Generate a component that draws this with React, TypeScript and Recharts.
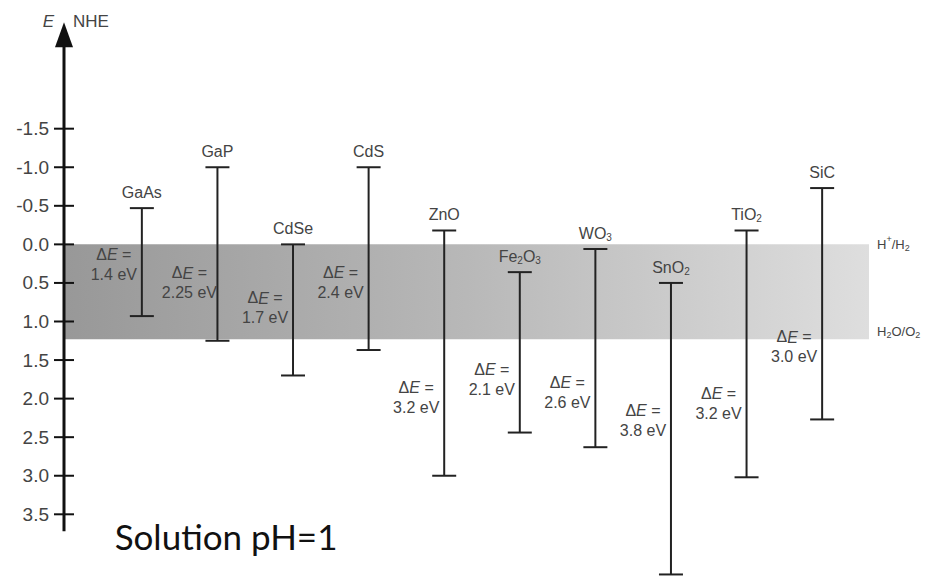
import {
  ScatterChart,
  Scatter,
  XAxis,
  YAxis,
  ErrorBar,
  ReferenceArea,
  ReferenceLine,
  ReferenceDot,
} from 'recharts'

const materials = ['GaAs', 'GaP', 'CdSe', 'CdS', 'ZnO', 'Fe2O3', 'WO3', 'SnO2', 'TiO2', 'SiC']
const bandGaps = ['1.4', '2.25', '1.7', '2.4', '3.2', '2.1', '2.6', '3.8', '3.2', '3.0']
// band edges in eV vs NHE (conduction band top, valence band bottom)
const cbEdge = [-0.47, -1.0, 0.0, -1.0, -0.18, 0.36, 0.06, 0.5, -0.18, -0.73]
const vbEdge = [0.93, 1.25, 1.7, 1.37, 3.0, 2.44, 2.63, 4.28, 3.02, 2.27]
// where the "ΔE = ..." note sits on the energy axis
const gapLabelAt = [0.26, 0.5, 0.82, 0.49, 1.98, 1.75, 1.92, 2.28, 2.06, 1.33]
const yTicks = [-1.5, -1.0, -0.5, 0, 0.5, 1.0, 1.5, 2.0, 2.5, 3.0, 3.5]
const hPlusLevel = 0
const waterOxLevel = 1.23

const X_MIN = -1.03
const X_MAX = 9.62
const TEXT = '#444'
const FONT = 'Liberation Sans, Arial, sans-serif'

const edgeRows = materials.map((name, i) => ({
  x: i,
  y: cbEdge[i],
  err: [0, vbEdge[i] - cbEdge[i]],
  name,
}))

const gapRows = materials.map((name, i) => ({
  x: i,
  y: gapLabelAt[i],
  gap: bandGaps[i],
}))

function formula(text: string, sub = 10) {
  const parts = text.match(/[A-Za-z]+|\d+/g) || []
  return parts.map((p, i) => {
    const isNum = /\d/.test(p)
    const prevNum = i > 0 && /\d/.test(parts[i - 1])
    if (isNum) return <tspan key={i} fontSize={sub} dy={4}>{p}</tspan>
    return <tspan key={i} dy={prevNum ? -4 : 0}>{p}</tspan>
  })
}

function NameShape(props: any) {
  const { cx, cy, payload } = props
  return (
    <text x={cx} y={cy - 16} textAnchor="middle" dominantBaseline="central"
      fontSize={16} fill={TEXT} fontFamily={FONT}>
      {formula(payload.name)}
    </text>
  )
}

function GapShape(props: any) {
  const { cx, cy, payload } = props
  const x = cx - 28
  return (
    <g fontSize={16} fill={TEXT} fontFamily={FONT}>
      <text x={x} y={cy - 10} textAnchor="middle" dominantBaseline="central">
        Δ<tspan fontStyle="italic">E</tspan> =
      </text>
      <text x={x} y={cy + 10} textAnchor="middle" dominantBaseline="central">
        {payload.gap} eV
      </text>
    </g>
  )
}

function YTick(props: any) {
  const { x, y, payload } = props
  return (
    <g>
      <line x1={x - 10} x2={x + 10} y1={y} y2={y} stroke="#111" strokeWidth={2} />
      <text x={x - 15} y={y} textAnchor="end" dominantBaseline="central"
        fontSize={19} fill={TEXT} fontFamily={FONT}>
        {Number(payload.value).toFixed(1)}
      </text>
    </g>
  )
}

function ArrowHead(props: any) {
  const { cx, cy } = props
  return (
    <g>
      <polygon points={`${cx},${cy} ${cx - 9},${cy + 25} ${cx + 9},${cy + 25}`} fill="#111" />
      <text x={cx - 10} y={cy - 1} textAnchor="end" dominantBaseline="central"
        fontSize={17} fontStyle="italic" fill={TEXT} fontFamily={FONT}>E</text>
      <text x={cx + 9} y={cy - 1} dominantBaseline="central"
        fontSize={17} fill={TEXT} fontFamily={FONT}>NHE</text>
    </g>
  )
}

function NoteShape(props: any) {
  const { cx, cy } = props
  return (
    <text x={cx} y={cy} fontSize={35} fill="#111" fontFamily="Lato, Open Sans, sans-serif">
      Solution pH=1
    </text>
  )
}

const HPlusLabel = (props: any) => {
  const { viewBox } = props
  return (
    <text x={viewBox.x + viewBox.width + 8} y={viewBox.y} dominantBaseline="central"
      fontSize={13} fill={TEXT} fontFamily={FONT}>
      H<tspan fontSize={9} dy={-5}>+</tspan><tspan dy={5}>/H</tspan><tspan fontSize={9} dy={4}>2</tspan>
    </text>
  )
}

const WaterLabel = (props: any) => {
  const { viewBox } = props
  return (
    <text x={viewBox.x + viewBox.width + 8} y={viewBox.y - 8} dominantBaseline="central"
      fontSize={13} fill={TEXT} fontFamily={FONT}>
      H<tspan fontSize={9} dy={4}>2</tspan><tspan dy={-4}>O/O</tspan><tspan fontSize={9} dy={4}>2</tspan>
    </text>
  )
}

export default function App() {
  return (
    <div style={{ position: 'absolute', left: 0, top: 0, width: 928, height: 576, background: '#fff' }}>
      <ScatterChart width={928} height={576} margin={{ top: 13, right: 59, bottom: 0, left: 14 }}>
        <defs>
          <linearGradient id="bandGrad" x1="0" y1="0" x2="1" y2="0">
            <stop offset="0%" stopColor="#989898" />
            <stop offset="50%" stopColor="#b8b8b8" />
            <stop offset="100%" stopColor="#dedede" />
          </linearGradient>
        </defs>
        <XAxis type="number" dataKey="x" domain={[X_MIN, X_MAX]} hide allowDataOverflow />
        <YAxis
          type="number"
          dataKey="y"
          domain={[-3, 4.3]}
          reversed
          allowDataOverflow
          width={50}
          ticks={yTicks}
          interval={0}
          axisLine={false}
          tickLine={false}
          tickSize={0}
          tickMargin={0}
          tick={<YTick />}
        />
        <ReferenceArea x1={X_MIN} x2={X_MAX} y1={hPlusLevel} y2={waterOxLevel}
          fill="url(#bandGrad)" fillOpacity={1} stroke="none" ifOverflow="visible" />
        <ReferenceLine y={hPlusLevel} stroke="none" label={<HPlusLabel />} />
        <ReferenceLine y={waterOxLevel} stroke="none" label={<WaterLabel />} />
        <ReferenceLine
          segment={[{ x: X_MIN, y: -2.6 }, { x: X_MIN, y: 3.72 }]}
          stroke="#111"
          strokeWidth={3}
          ifOverflow="visible"
        />
        <ReferenceDot x={X_MIN} y={-2.88} r={1} shape={<ArrowHead />} ifOverflow="visible" />
        <Scatter data={edgeRows} shape={<NameShape />} isAnimationActive={false}>
          <ErrorBar dataKey="err" direction="y" width={12} stroke="#222" strokeWidth={2}
            isAnimationActive={false} />
        </Scatter>
        <Scatter data={gapRows} shape={<GapShape />} isAnimationActive={false} />
        <ReferenceDot x={-0.36} y={3.96} r={1} shape={<NoteShape />} ifOverflow="visible" />
      </ScatterChart>
    </div>
  )
}
